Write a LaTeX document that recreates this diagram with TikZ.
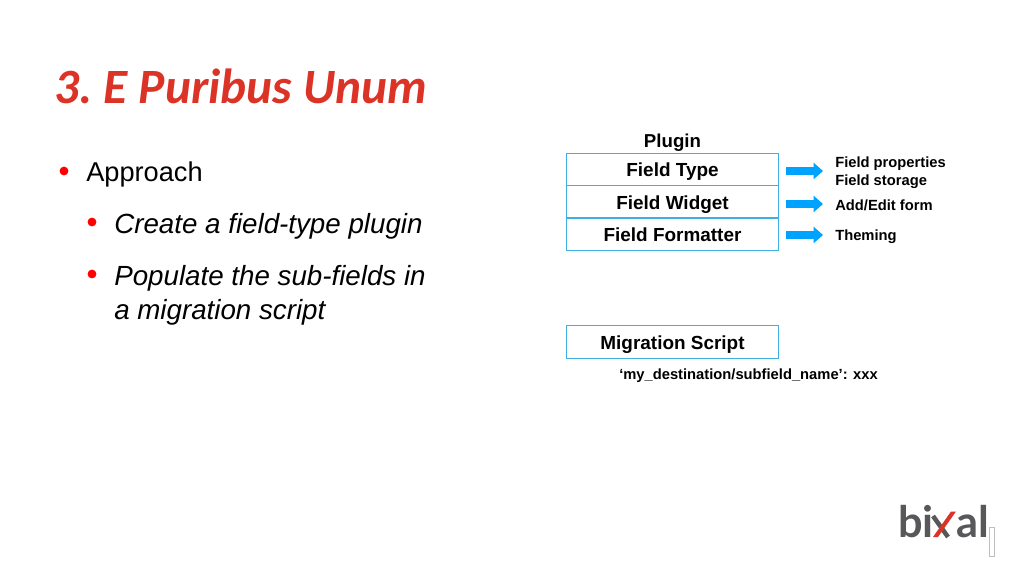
\documentclass[tikz,border=0pt]{standalone}
\usepackage{fontspec}
\usepackage{tikz}
\usetikzlibrary{arrows.meta}
\setmainfont{Liberation Sans}
\newfontfamily\titlefont{Carlito}
\newfontfamily\logofont{Lato}
\definecolor{titlered}{HTML}{DC3327}
\definecolor{boxblue}{HTML}{3FB0E0}
\definecolor{arrowblue}{HTML}{00A2FF}
\definecolor{logogray}{HTML}{58585A}
\tikzset{
  fieldbox/.style={draw=boxblue,line width=0.9pt,minimum width=158.5pt,minimum height=24.5pt,inner sep=0pt,text height=10.5pt,text depth=0pt,font=\fontsize{14.2}{16}\selectfont\bfseries},
  fieldnote/.style={anchor=west,inner sep=0pt,align=left,font=\fontsize{11.05}{13.4}\selectfont\bfseries},
  bulletdot/.style={circle,fill=red,inner sep=0pt,minimum size=6.6pt},
  bullettext/.style={anchor=base west,inner sep=0pt,align=left,font=\fontsize{20.4}{25.5}\selectfont},
  subtext/.style={bullettext,font=\fontsize{20.8}{25.5}\selectfont\itshape},
  blockarrow/.style={arrowblue,line width=6pt,-{Triangle[length=7pt,width=12pt]}},
  logotext/.style={anchor=base west,inner sep=0pt,text=logogray,font=\fontsize{32.5}{34}\selectfont\logofont\bfseries}
}
\begin{document}
\begin{tikzpicture}[x=0.75pt,y=-0.75pt]
  \useasboundingbox (0,0) rectangle (1024,576);
  \node[anchor=base west,inner sep=0pt,text=titlered,font=\fontsize{37}{38}\selectfont\titlefont\bfseries\itshape\frenchspacing] (title) at (54,103) {3. E Puribus Unum};

  \node[bulletdot] (dotA) at (64,171) {};
  \node[bullettext] (approach) at (86,181) {Approach};
  \node[bulletdot] (dotB) at (92,222) {};
  \node[subtext] (create) at (114,233) {Create a field-type plugin};
  \node[bulletdot] (dotC) at (92,274) {};
  \node[subtext,anchor=north west] (populate) at (114,265) {Populate the sub-fields in\\a migration script};

  \node[font=\fontsize{14}{16}\selectfont\bfseries,inner sep=0pt] (plugin) at (672.5,143) {Plugin};
  \node[fieldbox] (fieldtype) at (672.5,169.5) {Field Type};
  \node[fieldbox] (fieldwidget) at (672.5,202) {Field Widget};
  \node[fieldbox] (fieldformatter) at (672.5,234) {Field Formatter};
  \node[fieldbox] (migration) at (672.5,342) {Migration Script};
  \node[fieldnote,anchor=base west] (dest) at (619,379) {‘my\_destination/subfield\_name’: xxx};

  \node[fieldnote] (props) at (835,173) {Field properties\\Field storage};
  \node[fieldnote] (form) at (835,205.5) {Add/Edit form};
  \node[fieldnote] (theming) at (835,237) {Theming};

  \coordinate (startA) at (786,171);
  \coordinate (endA) at (823,171);
  \coordinate (startB) at (786,204);
  \coordinate (endB) at (823,204);
  \coordinate (startC) at (786,235);
  \coordinate (endC) at (823,235);
  \draw[blockarrow] (startA) -- (endA);
  \draw[blockarrow] (startB) -- (endB);
  \draw[blockarrow] (startC) -- (endC);

  %logo
  \node[logotext] (logoleft) at (898,537) {bi};
  \node[logotext] (logoright) at (956,537) {al};
  \draw[logogray,line width=3.4pt] (933,516) -- (948,537);
  \fill[titlered] (951,511.5) -- (956,511.5) -- (938,537) -- (933,537) -- cycle;
  \draw[lightgray,line width=0.6pt] (989.5,527.5) rectangle (994,556);
\end{tikzpicture}
\end{document}
